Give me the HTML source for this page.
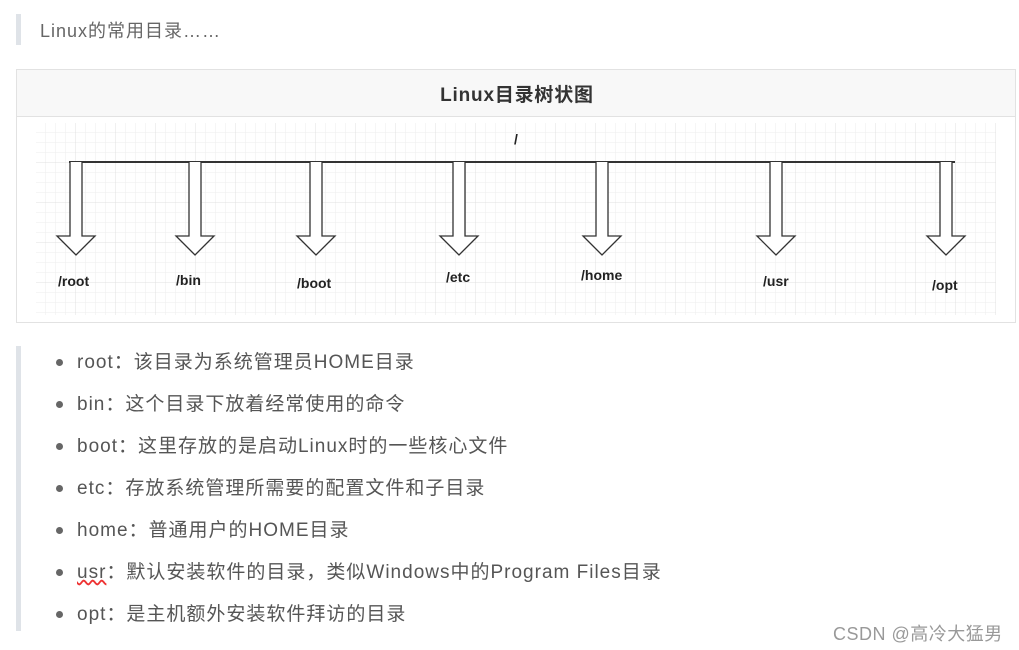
<!DOCTYPE html>
<html><head><meta charset="utf-8"><style>
body{margin:0;width:1019px;height:650px;background:#fff;font-family:"Liberation Sans","Noto Sans CJK SC",sans-serif;position:relative;overflow:hidden}
.abs{position:absolute}
.li{position:absolute;left:77px;font-size:19px;letter-spacing:1px;color:#555;line-height:24px;white-space:nowrap}
.dot{position:absolute;left:56px;width:7px;height:7px;border-radius:50%;background:#666}
.lab{font:bold 14px "Liberation Sans",sans-serif;fill:#222}
</style></head><body>
<div class="abs" style="left:16px;top:14px;width:5px;height:31px;background:#dfe3e8"></div>
<div class="abs" style="left:40px;top:17px;font-size:18px;letter-spacing:1px;color:#666">Linux的常用目录……</div>
<div class="abs" style="left:16px;top:69px;width:998px;height:252px;border:1px solid #e2e2e2"></div>
<div class="abs" style="left:17px;top:70px;width:998px;height:46px;background:#f8f8f8;border-bottom:1px solid #e2e2e2"></div>
<div class="abs" style="left:0;top:80px;width:1034px;text-align:center;font-size:19px;letter-spacing:0.8px;font-weight:bold;color:#333">Linux目录树状图</div>
<svg class="abs" style="left:0;top:0" width="1019" height="330">
<defs><pattern id="g" width="10" height="10" patternUnits="userSpaceOnUse" x="36" y="123"><path d="M10 0V10M0 10H10" stroke="#ededed" stroke-width="1" fill="none"/></pattern>
<pattern id="G" width="40" height="40" patternUnits="userSpaceOnUse" x="36" y="123"><path d="M40 0V40M0 40H40" stroke="#e0e0e0" stroke-width="1" fill="none"/></pattern></defs>
<rect x="36" y="123" width="960" height="192" fill="url(#g)"/>
<rect x="36" y="123" width="960" height="192" fill="url(#G)"/>
<line x1="69" y1="162" x2="955" y2="162" stroke="#333" stroke-width="2"/>
<g fill="#fff" stroke="#333" stroke-width="1.3">
<path d="M70 162V236H57L76 255L95 236H82V162"/>
<path d="M189 162V236H176L195 255L214 236H201V162"/>
<path d="M310 162V236H297L316 255L335 236H322V162"/>
<path d="M453 162V236H440L459 255L478 236H465V162"/>
<path d="M596 162V236H583L602 255L621 236H608V162"/>
<path d="M770 162V236H757L776 255L795 236H782V162"/>
<path d="M940 162V236H927L946 255L965 236H952V162"/>
</g>
<text class="lab" x="514" y="144">/</text>
<text class="lab" x="58" y="286">/root</text>
<text class="lab" x="176" y="285">/bin</text>
<text class="lab" x="297" y="288">/boot</text>
<text class="lab" x="446" y="282">/etc</text>
<text class="lab" x="581" y="280">/home</text>
<text class="lab" x="763" y="286">/usr</text>
<text class="lab" x="932" y="290">/opt</text>
</svg>
<div class="abs" style="left:16px;top:346px;width:5px;height:285px;background:#dfe3e8"></div>
<div class="dot" style="top:359px"></div><div class="li" style="top:351px">root：该目录为系统管理员HOME目录</div>
<div class="dot" style="top:401px"></div><div class="li" style="top:393px">bin：这个目录下放着经常使用的命令</div>
<div class="dot" style="top:443px"></div><div class="li" style="top:435px">boot：这里存放的是启动Linux时的一些核心文件</div>
<div class="dot" style="top:485px"></div><div class="li" style="top:477px">etc：存放系统管理所需要的配置文件和子目录</div>
<div class="dot" style="top:527px"></div><div class="li" style="top:519px">home：普通用户的HOME目录</div>
<div class="dot" style="top:569px"></div><div class="li" style="top:561px"><span style="text-decoration:underline wavy #e33">usr</span>：默认安装软件的目录，类似Windows中的Program Files目录</div>
<div class="dot" style="top:611px"></div><div class="li" style="top:603px">opt：是主机额外安装软件拜访的目录</div>
<div class="abs" style="left:833px;top:620px;font-size:18px;letter-spacing:0.5px;color:#999;white-space:nowrap">CSDN @高冷大猛男</div>
</body></html>
